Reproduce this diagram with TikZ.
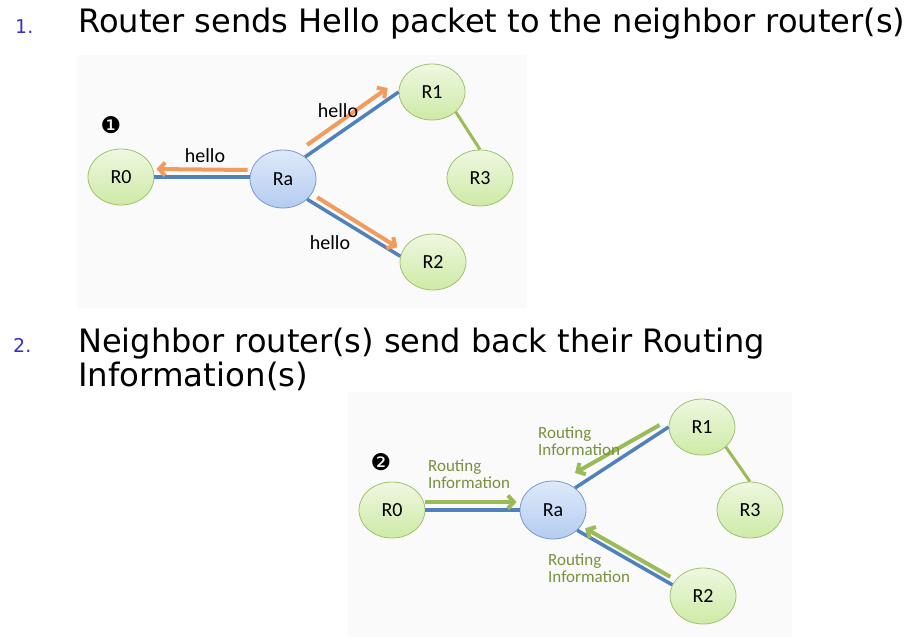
\documentclass[tikz,border=0pt]{standalone}
\usepackage{fontspec}
\setmainfont{DejaVu Sans}
\newfontfamily\calfont{Carlito}
\newfontfamily\dvfont{DejaVu Sans}
\usetikzlibrary{arrows.meta,shapes.geometric,calc}
\definecolor{panel}{RGB}{250,250,250}
\definecolor{numblue}{RGB}{51,51,204}
\definecolor{linkblue}{RGB}{79,129,189}
\definecolor{hellorange}{RGB}{242,155,90}
\definecolor{arrgreen}{RGB}{155,187,89}
\definecolor{txtgreen}{RGB}{118,146,60}
\definecolor{gtop}{RGB}{238,248,224}
\definecolor{gbot}{RGB}{206,234,166}
\definecolor{gborder}{RGB}{160,194,110}
\definecolor{btop}{RGB}{222,233,250}
\definecolor{bbot}{RGB}{180,204,240}
\definecolor{bborder}{RGB}{122,152,206}
\tikzset{
  router/.style={ellipse, draw=gborder, line width=0.8pt, top color=gtop, bottom color=gbot,
    minimum width=66pt, minimum height=56pt, inner sep=0pt,
    font=\calfont\fontsize{20}{20}\selectfont},
  hub/.style={router, draw=bborder, top color=btop, bottom color=bbot, minimum height=58pt},
  blueline/.style={draw=linkblue, line width=3.5pt},
  greenline/.style={draw=arrgreen, line width=3pt},
  oarrow/.style={draw=hellorange, line width=4pt, -{Straight Barb[length=6pt,width=13pt]}},
  garrow/.style={draw=arrgreen, line width=4pt, -{Straight Barb[length=6pt,width=13pt]}},
  hellolbl/.style={inner sep=0pt, anchor=base, font=\calfont\fontsize{20}{20}\selectfont},
  rilbl/.style={inner sep=0pt, anchor=base west, text=txtgreen, font=\calfont\fontsize{17}{17}\selectfont},
  numlbl/.style={inner sep=0pt, anchor=base west, text=numblue, font=\dvfont\fontsize{19}{19}\selectfont},
  heading/.style={inner sep=0pt, anchor=base west, font=\dvfont\fontsize{32}{32}\selectfont},
  stepmark/.style={inner sep=0pt, font=\dvfont\fontsize{23}{23}\selectfont}
}
\begin{document}
\begin{tikzpicture}[x=1pt,y=-1pt]
\useasboundingbox (0,0) rectangle (912,637);
\fill[white] (0,0) rectangle (912,637);
\fill[panel] (77,55) rectangle (527,308);
\fill[panel] (348,392) rectangle (792,637);

% headings
\node[numlbl] (n1) at (15,33) {1.};
\node[heading] (h1) at (78,33) {\resizebox{827pt}{24.5pt}{Router sends Hello packet to the neighbor router(s)}};
\node[numlbl] (n2) at (13,352) {2.};
\node[heading] (h2) at (78,352) {\resizebox{687pt}{24.5pt}{Neighbor router(s) send back their Routing}};
\node[heading] (h3) at (78,386) {\resizebox{230pt}{24.5pt}{Information(s)}};

% ---------- diagram 1 ----------
\node[router] (aR0) at (121,177) {R0};
\node[hub]    (aRa) at (283,179) {Ra};
\node[router] (aR1) at (432,92)  {R1};
\node[router] (aR3) at (480,178) {R3};
\node[router] (aR2) at (433,262) {R2};
\node[stepmark] (s1) at (111,125) {❶};

\draw[blueline] (aR0.east) -- (aR0.east -| aRa.west);
\draw[blueline] (aRa.45) -- (aR1.west);
\draw[blueline] (aRa.-40) -- (aR2.170);
\draw[greenline] (aR1.-40) -- (aR3.north);

\draw[oarrow] ([shift={(-2,-9)}]aRa.west) -- ([shift={(2,-8)}]aR0.east);
\draw[oarrow] ([shift={(2,-12)}]aRa.45) -- ([shift={(-11,-4)}]aR1.west);
\draw[oarrow] ([shift={(10,-2)}]aRa.-40) -- ([shift={(-3,-9)}]aR2.170);

\node[hellolbl] (l1) at (205,162) {hello};
\node[hellolbl] (l2) at (338,117) {hello};
\node[hellolbl] (l3) at (330,249) {hello};

% ---------- diagram 2 ----------
\node[router] (bR0) at (392,510) {R0};
\node[hub]    (bRa) at (553,510) {Ra};
\node[router] (bR1) at (702,427) {R1};
\node[router] (bR3) at (750,510) {R3};
\node[router] (bR2) at (703,596) {R2};
\node[stepmark] (s2) at (381,462) {❷};

\draw[blueline] (bR0.east) -- (bRa.west);
\draw[blueline] (bRa.45) -- (bR1.west);
\draw[blueline] (bRa.-40) -- (bR2.160);
\draw[greenline] (bR1.-40) -- (bR3.north);

\draw[garrow] ([shift={(0,-8)}]bR0.east) -- ([shift={(-3,-8)}]bRa.west);
\draw[garrow] ([shift={(-9,-2)}]bR1.west) -- ([shift={(0,-15)}]bRa.45);
\draw[garrow] ([shift={(-2,-8)}]bR2.160) -- ([shift={(8,-2)}]bRa.-40);

\node[rilbl] (ra1) at (428,471) {Routing};
\node[rilbl] (ra2) at (428,488) {Information};
\node[rilbl] (rb1) at (538,438) {Routing};
\node[rilbl] (rb2) at (538,455) {Information};
\node[rilbl] (rc1) at (548,565) {Routing};
\node[rilbl] (rc2) at (548,582) {Information};
\end{tikzpicture}
\end{document}
